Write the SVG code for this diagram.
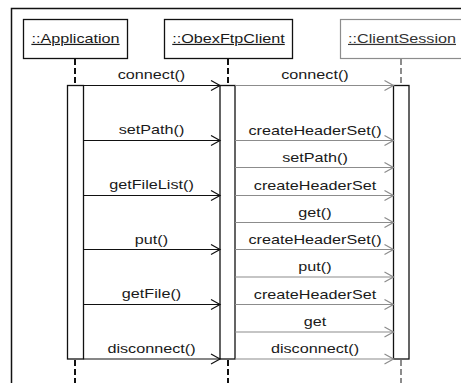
<svg xmlns="http://www.w3.org/2000/svg" width="461" height="383" viewBox="0 0 461 383">
<style>
text{font-family:"Liberation Sans",Arial,sans-serif;font-size:12px;fill:#1a1a1a;text-anchor:middle}
.box{fill:#fff;stroke:#111;stroke-width:1.3}
.gbox{fill:#fff;stroke:#8c8c8c;stroke-width:1.2}
.bar{fill:#fff;stroke:#111;stroke-width:1.3}
.life{stroke:#111;stroke-width:2;stroke-dasharray:6,3;fill:none}
.glife{stroke:#8c8c8c;stroke-width:2;stroke-dasharray:6,3;fill:none}
.msg{stroke:#111;stroke-width:1.2;fill:none;marker-end:url(#ab)}
.gmsg{stroke:#8c8c8c;stroke-width:1.2;fill:none;marker-end:url(#ag)}
.u{text-decoration:underline}
</style>
<defs>
<marker id="ab" markerWidth="12" markerHeight="12" refX="0" refY="0" viewBox="-10 -6 12 12" markerUnits="userSpaceOnUse" orient="auto"><path d="M-9,-5 L0,0 L-9,5" fill="none" stroke="#111" stroke-width="1.2"/></marker>
<marker id="ag" markerWidth="12" markerHeight="12" refX="0" refY="0" viewBox="-10 -6 12 12" markerUnits="userSpaceOnUse" orient="auto"><path d="M-9,-5 L0,0 L-9,5" fill="none" stroke="#8c8c8c" stroke-width="1.2"/></marker>
</defs>
<rect width="461" height="383" fill="#fff"/>
<path d="M11.5,390 V8.5 H470" fill="none" stroke="#111" stroke-width="1.5"/>

<g id="lifelines">
<path class="life" d="M75,59 V85 M75,360 V383"/>
<path class="life" d="M228,59 V85 M228,360 V383"/>
<path class="glife" d="M401,59 V85 M401,360 V383"/>
</g>

<g id="application">
<rect class="box" x="23.5" y="19.5" width="104" height="39"/>
<text class="u" transform="translate(75.5,43) scale(1.35,1)">::Application</text>
<rect class="bar" x="67.5" y="85.5" width="16" height="273.5"/>
</g>
<g id="obexftpclient">
<rect class="box" x="164.5" y="19.5" width="128" height="39"/>
<text class="u" transform="translate(228.5,43) scale(1.35,1)">::ObexFtpClient</text>
<rect class="bar" x="220" y="85.5" width="15" height="273.5"/>
</g>
<g id="clientsession">
<rect class="gbox" x="340.5" y="19.5" width="130" height="39"/>
<text class="u" transform="translate(402,43) scale(1.35,1)" style="fill:#333">::ClientSession</text>
<rect class="bar" x="393.5" y="85.5" width="15.5" height="273.5"/>
</g>

<g id="connectors">
<line class="msg" x1="83.5" y1="85.5" x2="220" y2="85.5"/>
<line class="msg" x1="83.5" y1="140.5" x2="220" y2="140.5"/>
<line class="msg" x1="83.5" y1="195.5" x2="220" y2="195.5"/>
<line class="msg" x1="83.5" y1="249.5" x2="220" y2="249.5"/>
<line class="msg" x1="83.5" y1="304.5" x2="220" y2="304.5"/>
<line class="msg" x1="83.5" y1="359" x2="220" y2="359"/>

<line class="gmsg" x1="235" y1="85.5" x2="393.5" y2="85.5"/>
<line class="gmsg" x1="235" y1="140.5" x2="393.5" y2="140.5"/>
<line class="gmsg" x1="235" y1="167.5" x2="393.5" y2="167.5"/>
<line class="gmsg" x1="235" y1="195.5" x2="393.5" y2="195.5"/>
<line class="gmsg" x1="235" y1="222.5" x2="393.5" y2="222.5"/>
<line class="gmsg" x1="235" y1="249.5" x2="393.5" y2="249.5"/>
<line class="gmsg" x1="235" y1="277" x2="393.5" y2="277"/>
<line class="gmsg" x1="235" y1="304.5" x2="393.5" y2="304.5"/>
<line class="gmsg" x1="235" y1="332" x2="393.5" y2="332"/>
<line class="gmsg" x1="235" y1="359" x2="393.5" y2="359"/>

<text transform="translate(151.5,79) scale(1.35,1)">connect()</text>
<text transform="translate(151.5,134) scale(1.35,1)">setPath()</text>
<text transform="translate(151.5,189) scale(1.35,1)">getFileList()</text>
<text transform="translate(151.5,243.5) scale(1.35,1)">put()</text>
<text transform="translate(151.5,298) scale(1.35,1)">getFile()</text>
<text transform="translate(151.5,353) scale(1.35,1)">disconnect()</text>

<text transform="translate(315,79) scale(1.35,1)">connect()</text>
<text transform="translate(315,134.5) scale(1.35,1)">createHeaderSet()</text>
<text transform="translate(315,161.5) scale(1.35,1)">setPath()</text>
<text transform="translate(315,189.5) scale(1.35,1)">createHeaderSet</text>
<text transform="translate(315,216.5) scale(1.35,1)">get()</text>
<text transform="translate(315,243.5) scale(1.35,1)">createHeaderSet()</text>
<text transform="translate(315,271) scale(1.35,1)">put()</text>
<text transform="translate(315,298.5) scale(1.35,1)">createHeaderSet</text>
<text transform="translate(315,326) scale(1.35,1)">get</text>
<text transform="translate(315,353) scale(1.35,1)">disconnect()</text>
</g>
</svg>
